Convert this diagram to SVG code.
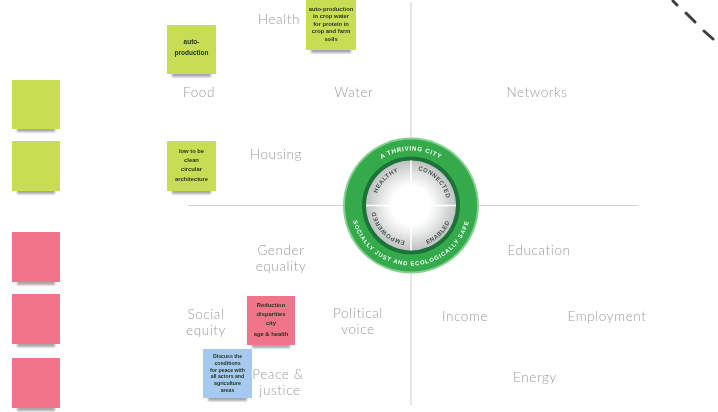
<svg xmlns="http://www.w3.org/2000/svg" width="718" height="412" viewBox="0 0 718 412">
<style>
.l{font-family:Lato,"Open Sans",sans-serif;font-size:13.5px;fill:#9a9a9a;text-anchor:middle;letter-spacing:.6px;font-weight:300}
.n{font-family:"Liberation Sans",sans-serif;font-size:5.8px;fill:#25351a;text-anchor:middle;font-weight:700}
.w{font-family:"Liberation Sans",sans-serif;font-size:6.2px;fill:#f2fff4;font-weight:700;letter-spacing:.7px;text-anchor:middle}
.i{font-family:"Liberation Sans",sans-serif;font-size:6px;fill:#46544a;font-weight:700;letter-spacing:.5px;text-anchor:middle}
.g{fill:#c8dd52}.p{fill:#f0758c}.b{fill:#a6c9f0}
.sh{fill:#a8a8a8}
.ax{stroke:#d4d4d4;stroke-width:1.2;fill:none}
</style>
<defs>
<filter id="s" x="-10%" y="-30%" width="120%" height="160%"><feGaussianBlur stdDeviation="1.300"/></filter>
<filter id="t" x="-5%" y="-5%" width="110%" height="110%"><feGaussianBlur stdDeviation=".4"/></filter>
<radialGradient id="d" cx="50%" cy="50%" r="50%"><stop offset="42%" stop-color="#fff"/><stop offset="58%" stop-color="#f1f1f1"/><stop offset="100%" stop-color="#bfc2c2"/></radialGradient>
<path id="top" d="M356 205.500A55 55 0 0 1 466 205.500"/>
<path id="bot" d="M351 205.500A60 60 0 0 0 471 205.500"/>
<path id="upper" d="M375 205.500A36 36 0 0 1 447 205.500"/>
<path id="lr" d="M411 247.500A42 42 0 0 0 453 205.500"/>
<path id="ll" d="M411 241.500A36 36 0 0 1 375 205.500"/>
</defs>
<g id="connectors">
<path class="ax" d="M411 2V405M188 205.500H638"/>
<path d="M673 1L677 5M686 13L695 22M704 31L713 39" stroke="#3a3f42" stroke-width="3" stroke-linecap="round" fill="none"/>
</g>
<g id="wheel" filter="url(#t)">
<circle cx="411" cy="205.500" r="68" fill="#86d08f"/>
<circle cx="411" cy="205.500" r="66" fill="#36aa4c"/>
<circle cx="411" cy="205.500" r="49" fill="#1a7339"/>
<circle cx="411" cy="205.500" r="45" fill="url(#d)"/>
<path d="M411 160.500V250.500M366 205.500H456" stroke="#fff" stroke-width="1.500"/>
<text class="w"><textPath href="#top" startOffset="50%">A THRIVING CITY</textPath></text>
<text class="w" style="font-size:5.800px;letter-spacing:.95px"><textPath href="#bot" startOffset="50%">SOCIALLY JUST AND ECOLOGICALLY SAFE</textPath></text>
<text class="i"><textPath href="#upper" startOffset="25%">HEALTHY</textPath></text>
<text class="i"><textPath href="#upper" startOffset="75%">CONNECTED</textPath></text>
<text class="i"><textPath href="#lr" startOffset="50%">ENABLED</textPath></text>
<text class="i"><textPath href="#ll" startOffset="50%">EMPOWERED</textPath></text>
</g>
<g id="labels" filter="url(#t)">
<g id="health"><text class="l" x="279" y="24">Health</text></g>
<g id="food"><text class="l" x="199" y="97">Food</text></g>
<g id="water"><text class="l" x="354" y="97">Water</text></g>
<g id="networks"><text class="l" x="537" y="97">Networks</text></g>
<g id="housing"><text class="l" x="276" y="159">Housing</text></g>
<g id="gender"><text class="l" x="281" y="255">Gender</text><text class="l" x="281" y="271">equality</text></g>
<g id="education"><text class="l" x="539" y="255">Education</text></g>
<g id="social"><text class="l" x="206" y="319">Social</text><text class="l" x="206" y="335">equity</text></g>
<g id="political"><text class="l" x="358" y="318">Political</text><text class="l" x="358" y="334">voice</text></g>
<g id="income"><text class="l" x="465" y="321">Income</text></g>
<g id="employment"><text class="l" x="607" y="321">Employment</text></g>
<g id="energy"><text class="l" x="535" y="382">Energy</text></g>
<g id="peace"><text class="l" x="278" y="379">Peace &amp;</text><text class="l" x="280" y="395">justice</text></g>
</g>
<g id="notes">
<g id="note-l1"><rect class="sh" x="17" y="127" width="38" height="5" filter="url(#s)"/><rect class="g" x="12" y="80" width="48" height="49"/></g>
<g id="note-l2"><rect class="sh" x="17" y="189" width="38" height="5" filter="url(#s)"/><rect class="g" x="12" y="141" width="48" height="50"/></g>
<g id="note-l3"><rect class="sh" x="17" y="280" width="38" height="5" filter="url(#s)"/><rect class="p" x="12" y="232" width="48" height="50"/></g>
<g id="note-l4"><rect class="sh" x="17" y="342" width="38" height="5" filter="url(#s)"/><rect class="p" x="12" y="294" width="48" height="50"/></g>
<g id="note-l5"><rect class="sh" x="17" y="406" width="38" height="5" filter="url(#s)"/><rect class="p" x="12" y="358" width="48" height="50"/></g>
<g id="note-food" filter="url(#t)"><rect class="sh" x="172" y="72" width="39" height="5" filter="url(#s)"/><rect class="g" x="167" y="25" width="49" height="49"/><text class="n" style="font-size:6.500px" x="191.500" y="44">auto-</text><text class="n" style="font-size:6.500px" x="191.500" y="55">production</text></g>
<g id="note-health" filter="url(#t)"><rect class="sh" x="311" y="48" width="40" height="5" filter="url(#s)"/><rect class="g" x="306" y="0" width="50" height="50"/><text class="n" x="331" y="11">auto-production</text><text class="n" x="331" y="18">in crop water</text><text class="n" x="331" y="26">for protein in</text><text class="n" x="331" y="33">crop and farm</text><text class="n" x="331" y="41">soils</text></g>
<g id="note-housing" filter="url(#t)"><rect class="sh" x="172" y="189" width="39" height="5" filter="url(#s)"/><rect class="g" x="167" y="141" width="49" height="50"/><text class="n" x="191.500" y="153">low to be</text><text class="n" x="191.500" y="162">clean</text><text class="n" x="191.500" y="171">circular</text><text class="n" x="191.500" y="181">architecture</text></g>
<g id="note-reduce" filter="url(#t)"><rect class="sh" x="252" y="343" width="38" height="5" filter="url(#s)"/><rect class="p" x="247" y="296" width="48" height="49"/><text class="n" x="271" y="307">Reduction</text><text class="n" x="271" y="316">disparities</text><text class="n" x="271" y="325">city</text><text class="n" x="271" y="336">age &amp; health</text></g>
<g id="note-peace" filter="url(#t)"><rect class="sh" x="208" y="396" width="39" height="5" filter="url(#s)"/><rect class="b" x="203" y="349" width="49" height="49"/><text class="n" style="font-size:5.200px" x="227.500" y="358">Discuss the</text><text class="n" style="font-size:5.200px" x="227.500" y="365">conditions</text><text class="n" style="font-size:5.200px" x="227.500" y="372">for peace with</text><text class="n" style="font-size:5.200px" x="227.500" y="378">all actors and</text><text class="n" style="font-size:5.200px" x="227.500" y="385">agriculture</text><text class="n" style="font-size:5.200px" x="227.500" y="392">areas</text></g>
</g>
</svg>
